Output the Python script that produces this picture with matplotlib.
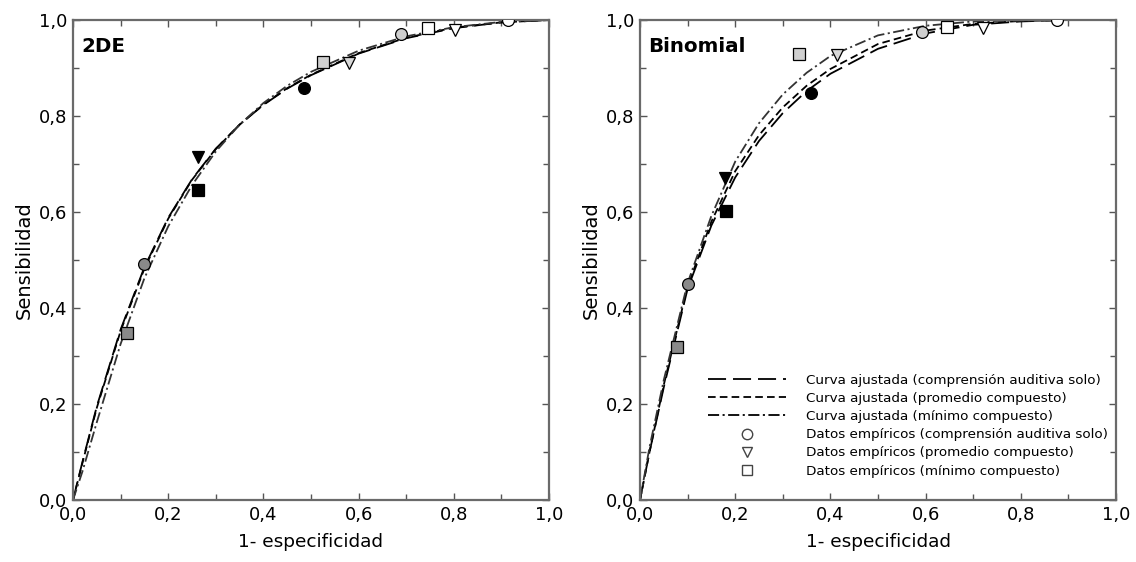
import matplotlib
matplotlib.use("Agg")
from matplotlib import pyplot as plt
from matplotlib.lines import Line2D

plt.rcParams['font.family'] = ['DejaVu Sans']
plt.rcParams['lines.scale_dashes'] = False

# tick labels (comma decimals)
tick_vals = [0.0, 0.2, 0.4, 0.6, 0.8, 1.0]
tick_labels = ['0,0', '0,2', '0,4', '0,6', '0,8', '1,0']

# fitted curves
# --- 2DE panel
x_2de = [0.0, 0.02, 0.05, 0.1, 0.15, 0.2, 0.25, 0.3, 0.35, 0.4, 0.45, 0.5, 0.6, 0.7, 0.8, 0.9, 1.0]
y_2de_solo = [0.0, 0.08, 0.195, 0.355, 0.485, 0.588, 0.668, 0.732, 0.782, 0.823, 0.857, 0.885, 0.930, 0.962, 0.983, 0.995, 1.0]
y_2de_prom = [0.0, 0.078, 0.192, 0.352, 0.482, 0.586, 0.667, 0.731, 0.782, 0.824, 0.858, 0.886, 0.931, 0.963, 0.984, 0.995, 1.0]
y_2de_min = [0.0, 0.06, 0.162, 0.325, 0.462, 0.570, 0.656, 0.726, 0.782, 0.827, 0.863, 0.892, 0.936, 0.966, 0.985, 0.996, 1.0]

# --- Binomial panel
x_bin = [0.0, 0.02, 0.05, 0.1, 0.15, 0.2, 0.25, 0.3, 0.35, 0.4, 0.5, 0.6, 0.7, 0.8, 0.9, 1.0]
y_bin_solo = [0.0, 0.10, 0.235, 0.44, 0.572, 0.672, 0.748, 0.806, 0.852, 0.888, 0.940, 0.972, 0.990, 0.997, 1.0, 1.0]
y_bin_prom = [0.0, 0.10, 0.240, 0.445, 0.58, 0.685, 0.760, 0.818, 0.863, 0.898, 0.950, 0.978, 0.992, 0.998, 1.0, 1.0]
y_bin_min = [0.0, 0.11, 0.250, 0.452, 0.592, 0.705, 0.785, 0.845, 0.890, 0.925, 0.968, 0.988, 0.997, 0.999, 1.0, 1.0]

# empirical points
circ_2de_x = [0.150, 0.486, 0.690, 0.914]
circ_2de_y = [0.492, 0.858, 0.971, 0.999]
tri_2de_x = [0.262, 0.580, 0.803]
tri_2de_y = [0.715, 0.911, 0.980]
sq_2de_x = [0.113, 0.263, 0.525, 0.746]
sq_2de_y = [0.347, 0.646, 0.913, 0.983]

circ_bin_x = [0.100, 0.359, 0.592, 0.875]
circ_bin_y = [0.451, 0.847, 0.976, 0.999]
tri_bin_x = [0.179, 0.414, 0.721]
tri_bin_y = [0.670, 0.927, 0.983]
sq_bin_x = [0.077, 0.180, 0.334, 0.644]
sq_bin_y = [0.319, 0.603, 0.929, 0.986]

circ_fill = ['#8a8a8a', 'black', '#cfcfcf', 'white']
tri_fill = ['black', '#d8d8d8', 'white']
sq_fill_2de = ['#8a8a8a', 'black', '#cfcfcf', 'white']
sq_fill_bin = ['#8a8a8a', 'black', '#d0d0d0', 'white']

legend_labels = ['Curva ajustada (comprensión auditiva solo)',
                 'Curva ajustada (promedio compuesto)',
                 'Curva ajustada (mínimo compuesto)',
                 'Datos empíricos (comprensión auditiva solo)',
                 'Datos empíricos (promedio compuesto)',
                 'Datos empíricos (mínimo compuesto)']

long_dash = (0, (13, 5))
short_dash = (0, (5.5, 3))
dash_dot = (0, (8, 2.5, 1.5, 2.5))
lw = 1.3

fig = plt.figure(figsize=(11.36, 5.62), dpi=100)
ax1 = fig.add_axes([73 / 1136, 62 / 562, 476 / 1136, 480 / 562])
ax2 = fig.add_axes([640 / 1136, 62 / 562, 476 / 1136, 480 / 562])


def draw_points(ax, xs, ys, fills, marker, ms):
    for x, y, c in zip(xs, ys, fills):
        ax.plot(x, y, marker=marker, ms=ms, mfc=c, mec='black', mew=0.9,
                linestyle='none', zorder=5)


def style_axes(ax, title):
    ax.set_xlim(0, 1)
    ax.set_ylim(0, 1)
    ax.set_xticks(tick_vals)
    ax.set_xticklabels(tick_labels)
    ax.set_yticks(tick_vals)
    ax.set_yticklabels(tick_labels)
    ax.set_xticks([0.1, 0.3, 0.5, 0.7, 0.9], minor=True)
    ax.set_yticks([0.1, 0.3, 0.5, 0.7, 0.9], minor=True)
    ax.tick_params(which='both', direction='in', top=True, right=True,
                   labelsize=13, color='#555555', width=1)
    ax.tick_params(which='major', length=5, pad=4)
    ax.tick_params(which='minor', length=4)
    for s in ax.spines.values():
        s.set_color('#6a6a6a')
        s.set_linewidth(1.6)
    ax.set_xlabel('1- especificidad', fontsize=13.3, labelpad=7)
    ax.set_ylabel('Sensibilidad', fontsize=14, labelpad=4)
    ax.text(0.018, 0.965, title, transform=ax.transAxes, fontsize=14.3,
            fontweight='bold', va='top', ha='left')


# 2DE
ax1.plot(x_2de, y_2de_solo, color='black', lw=lw, linestyle=long_dash)
ax1.plot(x_2de, y_2de_prom, color='black', lw=lw, linestyle=short_dash)
ax1.plot(x_2de, y_2de_min, color='#333333', lw=lw, linestyle=dash_dot)
draw_points(ax1, circ_2de_x, circ_2de_y, circ_fill, 'o', 8.5)
draw_points(ax1, tri_2de_x, tri_2de_y, tri_fill, 'v', 9)
draw_points(ax1, sq_2de_x, sq_2de_y, sq_fill_2de, 's', 8)
style_axes(ax1, '2DE')

# Binomial
ax2.plot(x_bin, y_bin_solo, color='black', lw=lw, linestyle=long_dash)
ax2.plot(x_bin, y_bin_prom, color='black', lw=lw, linestyle=short_dash)
ax2.plot(x_bin, y_bin_min, color='#333333', lw=lw, linestyle=dash_dot)
draw_points(ax2, circ_bin_x, circ_bin_y, circ_fill, 'o', 8.5)
draw_points(ax2, tri_bin_x, tri_bin_y, tri_fill, 'v', 9)
draw_points(ax2, sq_bin_x, sq_bin_y, sq_fill_bin, 's', 8)
style_axes(ax2, 'Binomial')

# legend proxies
handles = [
    Line2D([], [], color='black', lw=lw, linestyle=long_dash),
    Line2D([], [], color='black', lw=lw, linestyle=short_dash),
    Line2D([], [], color='black', lw=lw, linestyle=dash_dot),
    Line2D([], [], marker='o', ms=7.5, mfc='white', mec='#444444', linestyle='none'),
    Line2D([], [], marker='v', ms=7.5, mfc='white', mec='#444444', linestyle='none'),
    Line2D([], [], marker='s', ms=7, mfc='white', mec='#444444', linestyle='none'),
]
ax2.legend(handles, legend_labels, loc='lower right', bbox_to_anchor=(1.0, 0.03),
           frameon=False, fontsize=9.7, handlelength=5.8, handletextpad=1.5,
           labelspacing=0.38, numpoints=1, borderaxespad=0.2)

plt.savefig('out.png', dpi=100)
